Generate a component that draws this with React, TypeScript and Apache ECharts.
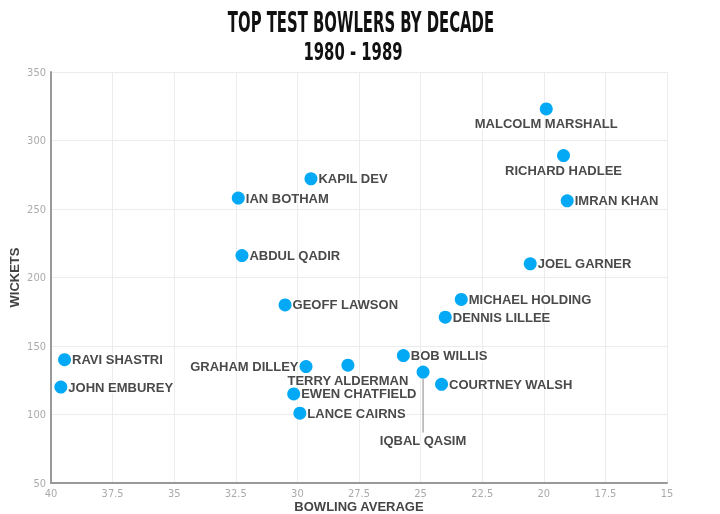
import React, { useEffect, useRef } from "react";
import * as echarts from "echarts";

const players = [
  "MALCOLM MARSHALL", "RICHARD HADLEE", "IMRAN KHAN", "JOEL GARNER", "MICHAEL HOLDING",
  "DENNIS LILLEE", "KAPIL DEV", "IAN BOTHAM", "ABDUL QADIR", "GEOFF LAWSON",
  "RAVI SHASTRI", "JOHN EMBUREY", "GRAHAM DILLEY", "TERRY ALDERMAN", "BOB WILLIS",
  "IQBAL QASIM", "COURTNEY WALSH", "EWEN CHATFIELD", "LANCE CAIRNS",
];
const bowlingAverage = [
  19.9, 19.2, 19.05, 20.55, 23.35,
  24.0, 29.45, 32.4, 32.25, 30.5,
  39.45, 39.6, 29.65, 27.95, 25.7,
  24.9, 24.15, 30.15, 29.9,
];
const wickets = [
  323, 289, 256, 210, 184,
  171, 272, 258, 216, 180,
  140, 120, 135, 136, 143,
  131, 122, 115, 101,
];
const xTicks = { min: 15, max: 40, step: 2.5 };
const yTicks = { min: 50, max: 350, step: 50 };

const labelPlacement: Record<string, string> = {
  "MALCOLM MARSHALL": "bottom",
  "RICHARD HADLEE": "bottom",
  "GRAHAM DILLEY": "left",
  "TERRY ALDERMAN": "bottom",
  "IQBAL QASIM": "leader",
};

export default function App() {
  const ref = useRef<HTMLDivElement>(null);
  useEffect(() => {
    if (!ref.current) return;
    const chart = echarts.init(ref.current, null, { renderer: "svg" });
    const data = players.map((name, i) => {
      const place = labelPlacement[name] || "right";
      const item: any = { name, value: [bowlingAverage[i], wickets[i]] };
      if (place === "bottom") item.label = { position: "bottom", distance: 2 };
      else if (place === "left") item.label = { position: "left", distance: 1 };
      else if (place === "leader") {
        item.label = { position: "bottom", distance: 5 };
        item.labelLine = { show: true };
      }
      return item;
    });
    const leaderIndex = players.indexOf("IQBAL QASIM");
    chart.setOption({
      animation: false,
      graphic: [
        {
          type: "text",
          x: 361,
          y: 22,
          scaleX: 0.57,
          style: {
            text: "TOP TEST BOWLERS BY DECADE",
            font: "bold 29px 'DejaVu Sans Condensed', 'DejaVu Sans', sans-serif",
            fill: "#111",
            align: "center",
            verticalAlign: "middle",
          },
        },
        {
          type: "text",
          x: 353,
          y: 51,
          scaleX: 0.66,
          style: {
            text: "1980 - 1989",
            font: "bold 25px 'DejaVu Sans Condensed', 'DejaVu Sans', sans-serif",
            fill: "#111",
            align: "center",
            verticalAlign: "middle",
          },
        },
      ],
      grid: { left: 51, right: 53, top: 72, bottom: 31, outerBoundsMode: "none", containLabel: false },
      xAxis: {
        type: "value",
        inverse: true,
        min: xTicks.min,
        max: xTicks.max,
        interval: xTicks.step,
        name: "BOWLING AVERAGE",
        nameLocation: "middle",
        nameGap: 17,
        nameMoveOverlap: false,
        nameTextStyle: { fontFamily: "Liberation Sans", fontWeight: "bold", fontSize: 13, color: "#444" },
        axisLine: { lineStyle: { color: "#999", width: 2 } },
        axisTick: { show: false },
        axisLabel: { color: "#aaa", fontFamily: "DejaVu Sans Condensed", fontSize: 11, margin: 5 },
        splitLine: { lineStyle: { color: "#ececec" } },
      },
      yAxis: {
        type: "value",
        min: yTicks.min,
        max: yTicks.max,
        interval: yTicks.step,
        name: "WICKETS",
        nameLocation: "middle",
        nameGap: 30,
        nameMoveOverlap: false,
        nameTextStyle: { fontFamily: "Liberation Sans", fontWeight: "bold", fontSize: 13, color: "#444" },
        axisLine: { show: true, lineStyle: { color: "#999", width: 2 } },
        axisTick: { show: false },
        axisLabel: { color: "#aaa", fontFamily: "DejaVu Sans Condensed", fontSize: 11, margin: 5 },
        splitLine: { lineStyle: { color: "#ececec" } },
      },
      series: [
        {
          type: "scatter",
          symbolSize: 13,
          itemStyle: { color: "#03A9F4", opacity: 1 },
          data,
          label: {
            show: true,
            formatter: "{b}",
            position: "right",
            distance: 1,
            fontFamily: "Liberation Sans",
            fontWeight: "bold",
            fontSize: 13,
            color: "#4a4a4a",
            textBorderColor: "#fff",
            textBorderWidth: 2,
          },
          labelLine: { show: false, lineStyle: { color: "#888", width: 1 }, length2: 0, minTurnAngle: 0 },
          labelLayout: (params: any) =>
            params.dataIndex === leaderIndex ? { dy: 50 } : {},
        },
      ],
    });
    return () => chart.dispose();
  }, []);
  return (
    <div
      ref={ref}
      style={{ position: "fixed", left: 0, top: 0, width: 720, height: 514 }}
    />
  );
}
